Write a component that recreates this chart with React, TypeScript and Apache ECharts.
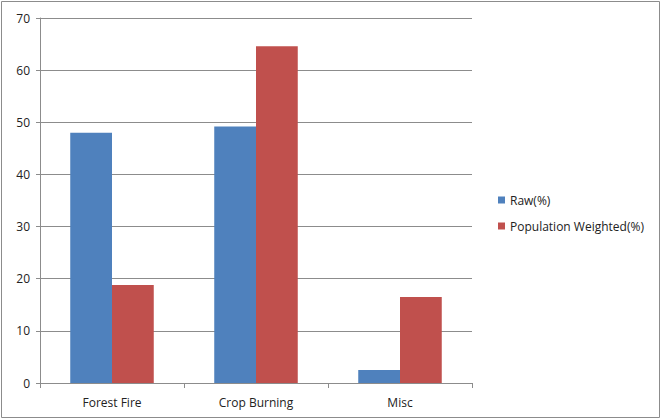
import React, { useEffect, useRef } from "react";
import * as echarts from "echarts";

const categories = ["Forest Fire", "Crop Burning", "Misc"];
const rawValues = [48, 49.2, 2.5];
const weightedValues = [18.8, 64.6, 16.5];
const seriesNames = ["Raw(%)", "Population Weighted(%)"];

export default function App() {
  const ref = useRef<HTMLDivElement>(null);
  useEffect(() => {
    document.body.style.margin = "0";
    const chart = echarts.init(ref.current!, null, { renderer: "svg" });
    const font = "'Open Sans', 'Liberation Sans', sans-serif";
    chart.setOption({
      animation: false,
      backgroundColor: "#fff",
      textStyle: { fontFamily: font },
      graphic: [
        {
          type: "rect",
          shape: { x: 1.5, y: 1.5, width: 658, height: 416 },
          style: { fill: "none", stroke: "#8c8c8c", lineWidth: 1 },
          silent: true,
        },
      ],
      grid: { left: 40, top: 18, right: 190, bottom: 37, containLabel: false },
      legend: {
        orient: "vertical",
        left: 493,
        top: 189,
        itemWidth: 7,
        itemHeight: 7,
        itemGap: 14,
        icon: "rect",
        textStyle: { fontFamily: font, fontSize: 12, color: "#222" },
        data: seriesNames,
      },
      xAxis: {
        type: "category",
        data: categories,
        axisLine: { lineStyle: { color: "#8c8c8c", width: 1 } },
        axisTick: { show: true, length: 5, alignWithLabel: false, lineStyle: { color: "#8c8c8c" } },
        axisLabel: { color: "#222", fontSize: 12, fontFamily: font, margin: 13 },
      },
      yAxis: {
        type: "value",
        min: 0,
        max: 70,
        interval: 10,
        axisLine: { show: true, lineStyle: { color: "#8c8c8c", width: 1 } },
        axisTick: { show: true, length: 4, lineStyle: { color: "#8c8c8c" } },
        axisLabel: { color: "#222", fontSize: 12, fontFamily: font, margin: 10 },
        splitLine: { show: true, lineStyle: { color: "#8c8c8c", width: 1 } },
      },
      series: [
        {
          name: seriesNames[0],
          type: "bar",
          data: rawValues,
          barGap: "0%",
          barCategoryGap: "42%",
          itemStyle: { color: "#4f81bd" },
        },
        {
          name: seriesNames[1],
          type: "bar",
          data: weightedValues,
          barGap: "0%",
          barCategoryGap: "42%",
          itemStyle: { color: "#c0504d" },
        },
      ],
    });
    return () => chart.dispose();
  }, []);
  return <div ref={ref} style={{ width: 662, height: 420 }} />;
}
